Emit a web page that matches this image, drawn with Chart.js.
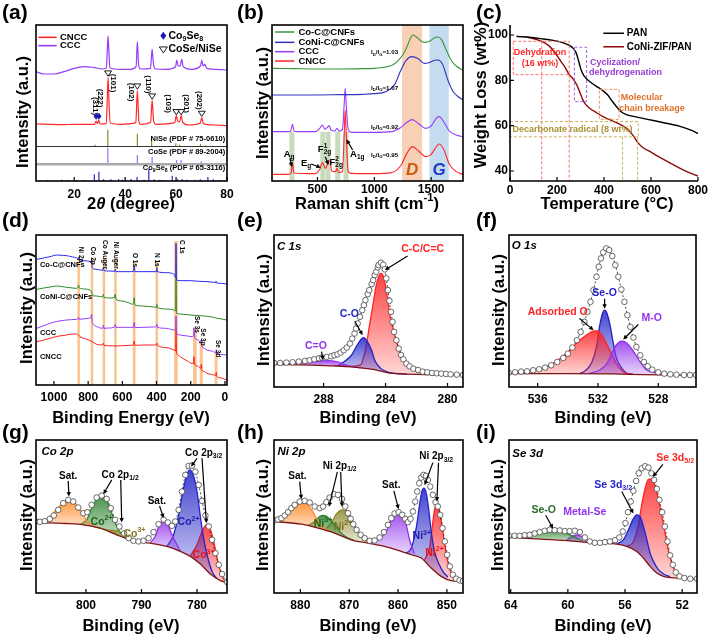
<!DOCTYPE html>
<html>
<head>
<meta charset="utf-8">
<title>Figure</title>
<script src="https://cdn.jsdelivr.net/npm/chart.js@4.4.1/dist/chart.umd.min.js"></script>
<style>
  html, body { margin: 0; padding: 0; background: #ffffff; }
  #fig { position: relative; width: 710px; height: 639px; overflow: hidden; background: #ffffff; }
  #fig canvas { position: absolute; left: 0; top: 0; }
</style>
</head>
<body>
<div id="fig"></div>
<script>
"use strict";

// DATA -----------------------

// (a) XRD  [2theta, intensity a.u.]
const xrdTicks = [20, 40, 60, 80];
const xrdCNCC = [[5,171],[10,170],[15,169],[20,170],[25,170],[28.0,170],[28.6,180],[29.1,172],[29.6,182],[30.2,171],[32.6,172],[33.0,250],[33.3,311],[33.7,225],[34.2,174],[38,170],[44.2,175],[44.8,271],[45.4,180],[46,170],[50.0,176],[50.6,243],[51.2,180],[52,170],[59.5,175],[60.1,196],[60.7,178],[61.4,178],[62.0,196],[62.6,176],[65,168],[69.5,174],[70.1,190],[70.7,172],[75,168],[80,166]];
const xrdCCC = [[5,328],[8,321],[12,321],[16,328],[20,338],[24,343],[28,340],[31,336],[32.6,338],[33.0,393],[33.3,435],[33.6,393],[34.0,340],[38,335],[42,335],[44.3,343],[44.8,418],[45.3,348],[46,336],[50,338],[50.3,370],[50.6,395],[50.9,370],[51.3,343],[52,336],[56,335],[59.8,343],[60.3,363],[60.8,345],[61.6,345],[62.2,365],[62.8,343],[66,335],[69.6,345],[70.1,363],[70.6,345],[71.3,350],[72,338],[76,335],[80,333]];
// reference cards [2theta, stick height]
const cardNiSe = [[28.2,5],[33.2,50],[44.8,38],[50.4,26],[59.9,10],[61.4,5],[69.6,8],[71.6,3]];
const cardCoSe = [[28.4,3],[33.2,50],[44.8,28],[50.6,22],[60.2,13],[62.0,13],[69.9,10],[71.6,5]];
const cardCo9Se8 = [[9.5,3],[15.2,4],[17.6,3],[21,3],[23.8,3],[27.9,20],[29.7,28],[31.5,5],[34.4,5],[37.4,6],[38.9,4],[42.3,6],[44.7,12],[47.5,4],[49.3,35],[51.4,5],[53.6,4],[55.2,3],[58.5,16],[60.6,5],[62.4,6],[64.2,4],[67.5,4],[69.5,5],[72.5,12],[74.6,5],[77.2,3]];

// (b) Raman  [shift cm-1, intensity]
const ramanTicks = [500, 1000, 1500];
const ramanCoC = [[100,338],[300,337],[500,336],[700,336],[900,337],[1000,338],[1100,342],[1160,348],[1200,358],[1250,378],[1290,405],[1320,430],[1340,438],[1370,432],[1420,418],[1450,416],[1490,420],[1530,430],[1560,432],[1590,425],[1630,395],[1680,360],[1720,345],[1780,332]];
const ramanCoNi = [[100,258],[400,258],[700,259],[900,260],[1000,262],[1100,268],[1180,290],[1230,330],[1280,362],[1330,373],[1380,368],[1440,353],[1480,355],[1530,362],[1560,363],[1600,350],[1650,300],[1690,270],[1730,255],[1780,243]];
const ramanCCC = [[100,148],[240,148],[265,150],[280,170],[295,150],[320,148],[480,148],[520,158],[544,168],[565,155],[590,162],[603,166],[620,152],[650,150],[671,158],[690,150],[720,155],[735,230],[744,278],[753,230],[770,155],[800,146],[1000,146],[1150,148],[1230,160],[1290,177],[1335,184],[1390,172],[1450,158],[1500,165],[1550,190],[1570,193],[1610,178],[1660,150],[1720,138],[1780,133]];
const ramanCNCC = [[100,20],[240,20],[268,24],[280,55],[292,24],[480,22],[520,35],[544,55],[570,38],[595,55],[610,60],[625,30],[660,28],[671,38],[685,26],[720,28],[735,140],[744,213],[753,140],[770,28],[800,23],[1000,22],[1150,25],[1230,45],[1290,85],[1335,103],[1390,90],[1450,73],[1500,80],[1550,105],[1570,111],[1610,95],[1660,50],[1720,28],[1780,20]];
const ramanRatios = ['1.03', '1.07', '0.92', '0.95'];

// (c) TGA  [temperature C, weight %]
const tgaXTicks = [0, 200, 400, 600, 800];
const tgaYTicks = [40, 60, 80, 100];
const tgaPAN = [[28,99.4],[80,99.0],[130,98.4],[184,97.6],[230,96.4],[255,95.3],[270,94.0],[282,92.0],[292,88.5],[302,84.8],[315,82.0],[330,80.3],[350,78.6],[375,76.9],[397,75.3],[415,73.6],[432,71.2],[450,68.8],[470,66.4],[495,64.9],[530,64.0],[580,62.9],[650,61.4],[720,59.8],[770,58.0],[800,56.6]];
const tgaZIF = [[28,99.4],[80,98.9],[135,97.2],[165,95.3],[190,92.4],[215,88.6],[235,85.6],[252,82.5],[270,80.4],[285,77.8],[298,74.5],[310,71.4],[322,69.4],[340,67.6],[370,65.6],[400,63.8],[440,61.9],[480,59.9],[505,58.0],[525,55.5],[545,52.4],[565,50.4],[600,48.3],[640,45.9],[680,43.6],[720,41.4],[760,39.4],[800,37.8]];

// (d) XPS survey  [binding energy eV, intensity]
const surveyTicks = [0, 200, 400, 600, 800, 1000];
const surveyCoC = [[1100,377],[1060,381],[1023,385],[984,390],[950,389],[926,388],[890,384],[867,381],[860,378],[855,384],[850,376],[800,372],[790,370],[782,367],[779,375],[776,352],[765,348],[740,346],[715,344],[711,352],[707,343],[680,342],[646,341],[642,348],[638,340],[600,340],[560,340],[535,341],[531,356],[527,340],[480,340],[420,340],[401,340],[398,352],[395,340],[340,337],[310,335],[295,330],[289,322],[286,425],[283,318],[279,314],[250,313],[200,313],[150,311],[100,310],[66,308],[55,307],[52,312],[49,306],[20,305],[-10,303]];
const surveyCoNi = [[1100,287],[1060,291],[1023,294],[984,297],[950,295],[926,293],[890,291],[870,290],[860,293],[856,300],[852,291],[820,288],[790,285],[782,282],[778,276],[775,268],[750,267],[715,264],[711,272],[707,263],[680,261],[646,262],[642,272],[638,258],[600,252],[560,246],[540,242],[535,243],[531,262],[527,240],[480,237],[420,234],[401,233],[398,242],[395,232],[340,228],[300,225],[289,222],[286,325],[283,215],[279,214],[262,213],[200,210],[150,208],[100,206],[66,203],[52,201],[20,198],[-10,195]];
const surveyCCC = [[1100,170],[1060,178],[1023,185],[980,191],[926,195],[867,197],[860,198],[856,203],[852,197],[800,200],[784,202],[780,212],[776,188],[760,178],[750,175],[715,170],[711,180],[707,170],[680,171],[646,174],[642,181],[638,173],[600,173],[560,173],[535,173],[531,188],[527,172],[480,173],[420,174],[401,175],[398,182],[395,173],[340,170],[300,165],[289,168],[286,207],[283,158],[279,152],[262,150],[220,147],[193,145],[184,147],[181,172],[177,142],[160,136],[154,134],[142,126],[139,135],[136,118],[120,110],[105,105],[80,102],[66,100],[53,96],[51,106],[49,94],[30,92],[-10,90]];
const surveyCNCC = [[1100,130],[1060,135],[1023,140],[980,146],[926,150],[890,153],[867,153],[857,150],[848,145],[800,136],[777,130],[750,122],[715,120],[711,126],[707,119],[680,118],[643,117],[600,118],[560,119],[535,120],[531,132],[527,119],[480,120],[420,120],[401,120],[398,126],[395,119],[340,112],[300,105],[289,102],[286,170],[283,95],[279,92],[262,85],[220,72],[193,65],[184,65],[181,85],[177,62],[160,57],[154,55],[142,50],[139,62],[136,46],[120,40],[105,35],[80,32],[66,30],[53,29],[51,38],[49,27],[30,22],[-10,15]];

// (e) C 1s
const c1sTicks = [280, 284, 288];
const c1sBg = [[291.2,68],[288.4,65],[286.2,60],[285.2,55],[284.5,50],[283.9,43],[283.0,39],[280.9,37],[279.0,36]];
const c1sCC = [[287.3,65],[286.2,62],[285.6,66],[285.45,85],[285.3,110],[285.05,180],[284.8,250],[284.6,305],[284.4,335],[284.3,340],[284.1,325],[283.9,275],[283.7,210],[283.4,155],[283.1,110],[282.8,80],[282.4,60],[281.7,48],[280.4,40],[279.0,36]];
const c1sCO = [[287.1,64],[286.7,75],[286.2,95],[285.9,120],[285.6,142],[285.4,148],[285.2,138],[284.9,110],[284.7,80],[284.3,55],[283.7,43],[282.6,38]];
const c1sCdO = [[291.2,69],[289.5,72],[288.4,77],[287.7,79],[287.1,75],[286.5,65],[285.6,57]];
const c1sEnv = [[291.2,72],[290.8,72],[290.4,73],[290.0,74],[289.6,76],[289.2,78],[288.9,80],[288.6,83],[288.3,86],[288.1,88],[287.8,90],[287.5,92],[287.3,95],[287.1,98],[286.9,103],[286.7,110],[286.5,118],[286.3,130],[286.15,145],[286.0,160],[285.9,175],[285.8,190],[285.65,210],[285.5,230],[285.4,245],[285.3,260],[285.15,278],[285.05,290],[284.9,308],[284.8,320],[284.7,335],[284.6,345],[284.5,358],[284.45,365],[284.3,372],[284.15,366],[284.05,352],[283.95,325],[283.85,290],[283.75,258],[283.65,225],[283.55,195],[283.45,165],[283.3,140],[283.15,115],[283.0,96],[282.85,83],[282.65,70],[282.45,62],[282.2,55],[281.9,51],[281.6,46],[281.3,44],[281.0,42],[280.7,41],[280.4,40],[280.1,39],[279.8,38],[279.4,37],[279.0,36]];

// (f) O 1s
const o1sTicks = [528, 532, 536];
const o1sBg = [[537.93,40],[534,40],[531,39],[529,37],[527,36],[525.5,35]];
const o1sAds = [[537.93,40],[536.11,50],[535.0,70],[534.11,100],[533.44,130],[532.78,155],[532.22,168],[532.0,168],[531.67,150],[531.22,110],[530.78,70],[530.33,45],[529.89,39]];
const o1sSeO = [[533.2,40],[532.8,50],[532.4,75],[532.1,120],[531.9,180],[531.7,220],[531.56,230],[531.4,220],[531.2,185],[531.0,135],[530.8,90],[530.4,55],[530.1,42],[529.7,39]];
const o1sMO = [[532.6,40],[531.9,50],[531.4,70],[531.1,100],[530.8,125],[530.4,137],[530.1,132],[529.7,110],[529.2,75],[528.8,52],[528.1,42],[527.2,37]];
const o1sEnv = [[537.93,43],[537.5,44],[537.1,46],[536.7,47],[536.3,50],[535.9,53],[535.5,58],[535.1,65],[534.7,75],[534.3,87],[534.0,100],[533.7,118],[533.4,140],[533.15,165],[532.9,195],[532.7,225],[532.5,255],[532.3,290],[532.1,330],[531.95,360],[531.8,385],[531.65,403],[531.45,415],[531.25,410],[531.05,392],[530.85,365],[530.65,330],[530.45,292],[530.25,255],[530.05,215],[529.85,180],[529.65,148],[529.45,120],[529.2,95],[528.95,75],[528.7,62],[528.4,52],[528.0,44],[527.6,40],[527.2,38],[526.8,37],[526.3,36],[525.9,36],[525.5,36]];

// (g) Co 2p
const co2pTicks = [780, 790, 800];
const co2pBg = [[809.04,209],[806.51,211],[803.49,209],[800.48,205],[797.47,195],[794.46,175],[791.45,157],[788.43,150],[785.42,140],[783.01,125],[781.20,110],[779.40,87],[777.59,57],[775.78,37],[774.58,31]];
const co2pSatA = [[808.92,208],[807.11,220],[805.60,245],[804.40,267],[803.19,277],[801.99,270],[800.78,243],[799.76,215],[798.67,200],[797.47,195]];
const co2pCo2A = [[801.08,206],[799.88,220],[798.98,255],[798.07,280],[797.17,287],[796.27,277],[795.36,240],[794.46,200],[793.25,170],[792.05,160],[790.84,155]];
const co2pCo3A = [[797.5,195],[796.3,190],[795.1,188],[794.2,186],[793.0,175],[792.0,163],[790.8,155]];
const co2pSatB = [[788.43,150],[787.53,170],[786.75,205],[786.02,217],[785.30,207],[784.52,175],[783.61,145],[783.01,125]];
const co2pCo2B = [[785.42,140],[784.22,175],[783.31,235],[782.53,305],[781.93,350],[781.33,370],[780.72,357],[780.0,305],[779.52,245],[778.92,175],[778.19,115],[777.29,65],[776.39,43]];
const co2pCo3B = [[781.20,112],[780.0,145],[779.10,185],[778.31,205],[777.71,195],[776.99,155],[776.39,105],[775.78,65],[775.18,40],[774.58,31]];
const co2pEnv = [[809.04,215],[808.31,214],[807.41,216],[806.51,223],[805.78,233],[805.0,250],[804.10,270],[803.19,280],[802.29,275],[801.39,257],[800.48,240],[799.76,243],[798.98,265],[798.07,287],[797.17,293],[796.27,283],[795.54,255],[794.76,220],[793.98,200],[793.13,179],[792.29,165],[791.45,157],[790.54,155],[789.64,157],[788.73,165],[787.83,183],[786.93,207],[786.02,221],[785.24,212],[784.52,202],[783.92,215],[783.31,250],[782.71,305],[782.11,355],[781.51,382],[780.90,383],[780.30,365],[779.70,325],[779.10,277],[778.49,233],[777.89,200],[777.29,160],[776.69,120],[776.08,85],[775.48,57],[774.58,33]];

// (h) Ni 2p
const ni2pTicks = [850, 860, 870, 880];
const ni2pBg = [[885.39,215],[879.80,207],[876.39,195],[872.98,180],[869.57,160],[866.16,150],[862.75,140],[859.35,125],[857.30,115],[855.26,105],[853.21,75],[851.17,50],[849.12,37],[846.73,35]];
const ni2pSatA = [[885.39,215],[883.20,230],[881.50,253],[880.14,268],[879.45,270],[878.43,265],[877.41,243],[876.39,215],[875.36,200],[874.34,188]];
const ni2pNi3A = [[878.4,204],[877.07,215],[876.05,230],[875.16,233],[874.34,227],[872.98,205],[871.62,180],[870.25,165],[868.89,157]];
const ni2pNi2A = [[875.02,190],[873.66,210],[872.64,237],[871.48,250],[870.25,243],[869.23,215],[868.21,185],[866.84,160],[865.48,152]];
const ni2pSatB = [[866.16,150],[864.12,160],[862.41,185],[861.39,220],[860.03,243],[859.0,235],[858.32,205],[857.64,160],[856.62,118]];
const ni2pNi3B = [[858.32,120],[857.30,135],[856.28,195],[855.60,265],[855.12,305],[854.71,315],[854.23,300],[853.76,255],[853.21,185],[852.53,125],[851.71,90],[850.82,65],[849.80,48]];
const ni2pNi2B = [[854.57,100],[853.55,135],[852.87,215],[852.39,260],[852.05,268],[851.64,255],[851.03,205],[850.35,135],[849.67,85],[848.78,50],[847.89,40],[846.73,35]];
const ni2pEnv = [[885.39,218],[884.57,221],[883.89,225],[883.20,233],[882.52,243],[881.84,255],[881.16,265],[880.14,275],[879.11,277],[878.09,272],[877.07,260],[876.05,255],[875.36,260],[874.68,273],[874.0,287],[873.12,297],[872.30,295],[871.48,283],[870.80,260],[870.25,240],[869.71,223],[869.16,207],[868.48,190],[867.66,175],[866.84,165],[865.82,157],[864.80,158],[863.78,167],[862.89,183],[862.07,205],[861.39,225],[860.71,239],[859.89,243],[859.14,235],[858.53,223],[857.98,213],[857.44,223],[856.96,245],[856.48,275],[856.07,305],[855.66,330],[855.26,347],[854.78,355],[854.30,352],[853.89,340],[853.41,320],[852.87,295],[852.32,273],[851.85,260],[851.37,235],[850.89,195],[850.42,155],[849.94,115],[849.39,80],[848.78,55],[848.10,43],[847.42,38],[846.73,36]];

// (i) Se 3d
const se3dTicks = [52, 56, 60, 64];
const se3dBg = [[64.12,167],[62.20,163],[60.33,158],[58.93,153],[57.52,150],[56.58,147],[55.88,140],[55.18,125],[54.71,105],[54.24,80],[53.77,60],[53.30,50],[52.37,45],[50.96,43]];
const se3dSeO = [[64.12,167],[63.14,175],[62.20,185],[61.15,189],[60.33,183],[59.63,170],[58.93,155]];
const se3dMSe = [[60.10,158],[59.74,170],[59.39,175],[59.04,170],[58.69,155],[58.34,151]];
const se3dD32 = [[56.58,148],[56.11,160],[55.76,190],[55.46,220],[55.18,235],[54.94,230],[54.71,200],[54.47,160],[54.24,120],[54.01,95],[53.66,70],[53.30,57],[52.84,49]];
const se3dD52 = [[55.88,140],[55.41,155],[55.06,205],[54.83,265],[54.59,315],[54.36,342],[54.19,343],[53.96,330],[53.66,280],[53.30,205],[52.95,125],[52.60,75],[52.25,50],[51.66,44],[50.96,43]];
const se3dEnv = [[64.12,172],[63.73,172],[63.37,172],[63.02,174],[62.67,175],[62.32,179],[61.97,183],[61.62,187],[61.27,190],[60.92,189],[60.56,188],[60.21,186],[59.87,186],[59.51,187],[59.16,183],[58.81,167],[58.46,155],[58.11,151],[57.75,151],[57.40,153],[57.05,155],[56.70,159],[56.40,167],[56.16,185],[55.97,210],[55.79,243],[55.60,275],[55.41,307],[55.22,337],[55.04,360],[54.83,375],[54.59,381],[54.36,377],[54.15,360],[53.96,340],[53.77,313],[53.59,280],[53.40,243],[53.21,200],[53.02,155],[52.84,113],[52.65,85],[52.44,62],[52.18,50],[51.85,45],[51.43,43],[50.96,43]];

// STYLE -----------------------
const FONT = '"Liberation Sans", Arial, Helvetica, sans-serif';
const cRed = '255,40,40';
const cPurple = '150,60,250';
const cGreen = '55,150,55';
const cBlue = '50,50,190';
const xRed = '255,35,35';
const xBlue = '35,35,200';
const xPurple = '145,50,235';
const xGreen = '45,130,45';
const xOlive = '140,135,40';
const xOrange = '255,135,35';
const xBg = '128,20,20';
const css = c => 'rgb(' + c + ')';

// HELPERS -----------------------
function curve(data, rgb, w, extra) {
  return Object.assign({
    data: data.map(p => ({x: p[0], y: p[1]})),
    borderColor: css(rgb),
    borderWidth: w,
    pointRadius: 0,
    fill: false,
    tension: 0,
    cubicInterpolationMode: 'monotone'
  }, extra || {});
}

function sticks(arr, base, rgb) {
  const data = [];
  arr.forEach(p => { data.push([p[0], base], [p[0], base + p[1]], [p[0], null]); });
  return curve(data, rgb, 1.2, {spanGaps: false, cubicInterpolationMode: 'default'});
}

// gradient fill: strong at the peak, pale at the base
function fade(rgb) {
  return function (ctx) {
    const chart = ctx.chart;
    if (!chart.chartArea || !ctx.dataset) return 'rgba(' + rgb + ',0.5)';
    const ys = ctx.dataset.data.map(p => p.y);
    const top = chart.scales.y.getPixelForValue(Math.max.apply(null, ys));
    const bot = chart.scales.y.getPixelForValue(Math.min.apply(null, ys));
    const g = chart.ctx.createLinearGradient(0, top, 0, bot + 1);
    g.addColorStop(0, 'rgba(' + rgb + ',0.85)');
    g.addColorStop(1, 'rgba(' + rgb + ',0.18)');
    return g;
  };
}

function xpsSets(bg, comps, env) {
  const sets = [curve(bg, xBg, 1.3, {order: 1})];
  comps.forEach((c, i) => sets.push(curve(c[0], c[1], 1.3, {
    order: 2 + i, fill: {target: 0}, backgroundColor: fade(c[1])
  })));
  sets.push(curve(env, '30,30,30', 0.8, {
    order: 0, borderDash: [2, 2],
    pointRadius: 2.8, pointBorderWidth: 0.8, pointBorderColor: '#444', pointBackgroundColor: '#fff'
  }));
  return sets;
}

const T = (s, x, y, o) => Object.assign({k: 'text', s: s, x: x, y: y}, o || {});
const A = (x1, y1, x2, y2, color) => ({k: 'arrow', x1: x1, y1: y1, x2: x2, y2: y2, color: color || '#000'});
const R = (x1, y1, x2, y2, o) => Object.assign({k: 'rect', x1: x1, y1: y1, x2: x2, y2: y2}, o || {});
const S = (x1, y1, x2, y2, color, w, dash) => ({k: 'seg', x1: x1, y1: y1, x2: x2, y2: y2, color: color, w: w || 1, dash: dash || []});
const M = (x, y, shape, color, size) => ({k: 'mark', x: x, y: y, shape: shape, color: color, size: size || 4});

// text with _{sub}, ^{sup} and ~{italic}
function drawRich(ctx, str, x, y, o) {
  const size = o.size || 11;
  const re = /([\^_~])\{([^}]*)\}|([^\^_~]+)/g;
  const parts = [];
  let m;
  while ((m = re.exec(str))) {
    if (m[3] !== undefined) parts.push({t: m[3], k: ''});
    else parts.push({t: m[2], k: m[1]});
  }
  const fontFor = p => {
    const s = (p.k === '^' || p.k === '_') ? size * 0.68 : size;
    const it = (p.k === '~' || o.italic) ? 'italic ' : '';
    return it + (o.bold === false ? '' : 'bold ') + s + 'px ' + FONT;
  };
  let w = 0, supStart = 0, supW = 0;
  const lay = [];
  parts.forEach((p, i) => {
    ctx.font = fontFor(p);
    const pw = ctx.measureText(p.t).width;
    let px = w;
    if (p.k === '_' && i > 0 && parts[i - 1].k === '^') {
      px = supStart;
      w = supStart + Math.max(supW, pw);
    } else {
      if (p.k === '^') { supStart = w; supW = pw; }
      w += pw;
    }
    lay.push({p: p, px: px, font: fontFor(p)});
  });
  ctx.save();
  ctx.translate(x, y);
  if (o.rot) ctx.rotate(o.rot * Math.PI / 180);
  const align = o.align || 'center';
  const x0 = align === 'center' ? -w / 2 : align === 'right' ? -w : 0;
  ctx.fillStyle = o.color || '#000';
  ctx.textBaseline = 'middle';
  ctx.textAlign = 'left';
  lay.forEach(l => {
    ctx.font = l.font;
    const dy = l.p.k === '^' ? -size * 0.36 : l.p.k === '_' ? size * 0.3 : 0;
    ctx.fillText(l.p.t, x0 + l.px, dy);
  });
  ctx.restore();
}

function arrow(ctx, x1, y1, x2, y2, color) {
  const a = Math.atan2(y2 - y1, x2 - x1), h = 5;
  ctx.strokeStyle = color; ctx.fillStyle = color; ctx.lineWidth = 1.2;
  ctx.beginPath(); ctx.moveTo(x1, y1);
  ctx.lineTo(x2 - h * 0.8 * Math.cos(a), y2 - h * 0.8 * Math.sin(a)); ctx.stroke();
  ctx.beginPath(); ctx.moveTo(x2, y2);
  ctx.lineTo(x2 - h * Math.cos(a - 0.45), y2 - h * Math.sin(a - 0.45));
  ctx.lineTo(x2 - h * Math.cos(a + 0.45), y2 - h * Math.sin(a + 0.45));
  ctx.closePath(); ctx.fill();
}

function drawItems(chart, items) {
  const ctx = chart.ctx;
  const X = v => chart.scales.x.getPixelForValue(v);
  const Y = v => chart.scales.y.getPixelForValue(v);
  items.forEach(it => {
    ctx.save();
    if (it.k === 'rect') {
      const x = Math.min(X(it.x1), X(it.x2)), y = Math.min(Y(it.y1), Y(it.y2));
      const w = Math.abs(X(it.x2) - X(it.x1)), h = Math.abs(Y(it.y2) - Y(it.y1));
      if (it.fill) { ctx.fillStyle = it.fill; ctx.fillRect(x, y, w, h); }
      if (it.stroke) {
        ctx.strokeStyle = it.stroke; ctx.lineWidth = 1; ctx.setLineDash(it.dash || []);
        ctx.strokeRect(x, y, w, h);
      }
    } else if (it.k === 'seg') {
      ctx.strokeStyle = it.color; ctx.lineWidth = it.w; ctx.setLineDash(it.dash);
      ctx.beginPath(); ctx.moveTo(X(it.x1), Y(it.y1)); ctx.lineTo(X(it.x2), Y(it.y2)); ctx.stroke();
    } else if (it.k === 'arrow') {
      arrow(ctx, X(it.x1), Y(it.y1), X(it.x2), Y(it.y2), it.color);
    } else if (it.k === 'mark') {
      const x = X(it.x), y = Y(it.y), s = it.size;
      ctx.beginPath();
      if (it.shape === 'dia') {
        ctx.moveTo(x, y - s); ctx.lineTo(x + s * 0.75, y); ctx.lineTo(x, y + s); ctx.lineTo(x - s * 0.75, y);
        ctx.closePath(); ctx.fillStyle = it.color; ctx.fill();
      } else {
        ctx.moveTo(x - s, y - s * 0.6); ctx.lineTo(x + s, y - s * 0.6); ctx.lineTo(x, y + s * 0.9);
        ctx.closePath(); ctx.fillStyle = '#fff'; ctx.fill();
        ctx.strokeStyle = it.color; ctx.lineWidth = 0.9; ctx.stroke();
      }
    } else if (it.k === 'text') {
      drawRich(ctx, it.s, X(it.x), Y(it.y), it);
    }
    ctx.restore();
  });
}

function deco(spec) {
  return {
    id: 'deco',
    beforeDatasetsDraw(chart) {
      const a = chart.chartArea, ctx = chart.ctx;
      ctx.save();
      ctx.beginPath(); ctx.rect(a.left, a.top, a.right - a.left, a.bottom - a.top); ctx.clip();
      drawItems(chart, spec.items.filter(it => it.back));
      ctx.restore();
    },
    afterDatasetsDraw(chart) {
      const a = chart.chartArea, ctx = chart.ctx;
      drawItems(chart, spec.items.filter(it => !it.back));
      ctx.save();
      ctx.strokeStyle = '#000'; ctx.lineWidth = 1.6;
      if (spec.frame === 'L') {
        ctx.beginPath(); ctx.moveTo(a.left, a.top); ctx.lineTo(a.left, a.bottom); ctx.lineTo(a.right, a.bottom); ctx.stroke();
      } else {
        ctx.strokeRect(a.left, a.top, a.right - a.left, a.bottom - a.top);
      }
      ctx.lineWidth = 1.2;
      ctx.beginPath();
      spec.x.ticks.forEach(v => {
        const px = chart.scales.x.getPixelForValue(v);
        ctx.moveTo(px, a.bottom); ctx.lineTo(px, a.bottom - 4);
      });
      if (spec.y.ticks) spec.y.ticks.forEach(v => {
        const py = chart.scales.y.getPixelForValue(v);
        ctx.moveTo(a.left, py); ctx.lineTo(a.left + 4, py);
      });
      ctx.stroke();
      ctx.restore();
    },
    afterDraw(chart) {
      const ctx = chart.ctx;
      drawRich(ctx, spec.label[0], spec.label[1], spec.label[2], {size: 21, align: 'left'});
      drawRich(ctx, spec.xt[0], spec.xt[1], spec.xt[2], {size: 16.5});
      drawRich(ctx, spec.yt[0], spec.yt[1], spec.yt[2], {size: 16.5, rot: -90});
    }
  };
}

function makeChart(spec) {
  const cv = document.createElement('canvas');
  cv.width = 710; cv.height = 639;
  cv.style.width = '710px'; cv.style.height = '639px';
  document.getElementById('fig').appendChild(cv);
  const L = spec.box[0], Tp = spec.box[1], Rt = spec.box[2], B = spec.box[3];
  const tickFont = {family: FONT, size: 12, weight: 'bold'};
  const yShown = !!spec.y.ticks;
  const yScale = yShown ? {
    type: 'linear', min: spec.y.min, max: spec.y.max,
    afterBuildTicks: s => { s.ticks = spec.y.ticks.map(v => ({value: v})); },
    afterFit: s => { s.width = 30; },
    ticks: {font: tickFont, color: '#000', padding: 2, callback: v => String(v)},
    grid: {display: false, drawTicks: false},
    border: {display: false}
  } : {type: 'linear', display: false, min: spec.y.min, max: spec.y.max};
  return new Chart(cv, {
    type: 'line',
    data: {datasets: spec.sets},
    options: {
      responsive: false, animation: false, devicePixelRatio: 1, events: [],
      layout: {padding: {left: yShown ? L - 30 : L, top: Tp, right: 710 - Rt, bottom: 0}},
      plugins: {legend: {display: false}, tooltip: {enabled: false}},
      scales: {
        x: {
          type: 'linear', min: spec.x.min, max: spec.x.max, reverse: !!spec.x.reverse,
          afterBuildTicks: s => { s.ticks = spec.x.ticks.map(v => ({value: v})); },
          afterFit: s => { s.height = 639 - B; },
          ticks: {font: tickFont, color: '#000', padding: spec.x.pad, maxRotation: 0, autoSkip: false, callback: v => String(v)},
          grid: {display: false, drawTicks: false},
          border: {display: false}
        },
        y: yScale
      }
    },
    plugins: [deco(spec)]
  });
}

// CHARTS -----------------------

// (a) XRD
makeChart({
  box: [36, 25, 227, 181],
  x: {min: 5, max: 80, ticks: xrdTicks, pad: 6},
  y: {min: 0, max: 468},
  sets: [
    curve(xrdCCC, cPurple, 1.2),
    curve(xrdCNCC, cRed, 1.2),
    sticks(cardNiSe, 103.5, '140,140,40'),
    sticks(cardCoSe, 50, '160,110,255'),
    sticks(cardCo9Se8, 0, '40,40,200')
  ],
  items: [
    S(5, 103.5, 80, 103.5, '#333', 1),
    S(5, 50, 80, 50, '#aaa', 2.5),
    S(5.9, 431, 13.1, 431, css(cRed), 1.6), T('CNCC', 14.4, 431, {size: 9.5, align: 'left'}),
    S(5.9, 406, 13.1, 406, css(cPurple), 1.6), T('CCC', 14.4, 406, {size: 9.5, align: 'left'}),
    M(55.0, 436, 'dia', '#1a1ab0', 4), T('Co_{9}Se_{8}', 57.0, 436, {size: 10.5, align: 'left'}),
    M(55.0, 395, 'tri', '#000', 4), T('CoSe/NiSe', 57.0, 395, {size: 10.5, align: 'left'}),
    T('(311)', 28.2, 225, {size: 8, rot: 90}),
    T('(222)', 30.1, 249, {size: 8, rot: 90}),
    T('(101)', 35.2, 294, {size: 8, rot: 90}),
    T('(102)', 42.3, 267, {size: 8, rot: 90}),
    T('(110)', 49.0, 290, {size: 8, rot: 90}),
    T('(103)', 57.0, 232, {size: 8, rot: 90}),
    T('(201)', 63.8, 232, {size: 8, rot: 90}),
    T('(202)', 69.0, 242, {size: 8, rot: 90}),
    M(33.3, 324, 'tri', '#000', 3.5), M(44.8, 285, 'tri', '#000', 3.5), M(50.6, 255, 'tri', '#000', 3.5),
    M(60.1, 208, 'tri', '#000', 3.5), M(62.0, 208, 'tri', '#000', 3.5), M(70.1, 203, 'tri', '#000', 3.5),
    M(28.6, 194, 'dia', '#1a1ab0', 3.5), M(29.7, 194, 'dia', '#1a1ab0', 3.5),
    T('NiSe (PDF # 75-0610)', 79.3, 126, {size: 7.5, align: 'right'}),
    T('CoSe (PDF # 89-2004)', 79.3, 88, {size: 7.5, align: 'right'}),
    T('Co_{9}Se_{8} (PDF # 65-3116)', 79.3, 38, {size: 7.5, align: 'right'})
  ],
  label: ['(a)', 2, 13], xt: ['2~{θ} (degree)', 131, 204], yt: ['Intensity (a.u.)', 23, 112]
});

// (b) Raman
const gBand = 'rgba(165,195,145,0.6)';
makeChart({
  box: [272, 25, 463, 181],
  x: {min: 100, max: 1780, ticks: ramanTicks, pad: 1},
  y: {min: 0, max: 468},
  sets: [
    curve(ramanCoC, cGreen, 1.1),
    curve(ramanCoNi, cBlue, 1.1),
    curve(ramanCCC, cPurple, 1.1),
    curve(ramanCNCC, cRed, 1.1)
  ],
  items: [
    R(253, 0, 297, 148, {fill: gBand, back: true}),
    R(525, 0, 568, 148, {fill: gBand, back: true}),
    R(572, 0, 615, 148, {fill: gBand, back: true}),
    R(656, 0, 700, 148, {fill: gBand, back: true}),
    R(729, 0, 773, 148, {fill: gBand, back: true}),
    R(1244, 0, 1420, 468, {fill: 'rgba(244,177,131,0.6)', back: true}),
    R(1485, 0, 1655, 468, {fill: 'rgba(157,195,230,0.6)', back: true}),
    S(127, 447, 297, 447, css(cGreen), 1.5), T('Co-C@CNFs', 332, 447, {size: 9.5, align: 'left'}),
    S(127, 416, 297, 416, css(cBlue), 1.5), T('CoNi-C@CNFs', 332, 416, {size: 9.5, align: 'left'}),
    S(127, 388, 297, 388, css(cPurple), 1.5), T('CCC', 332, 388, {size: 9.5, align: 'left'}),
    S(127, 360, 297, 360, css(cRed), 1.5), T('CNCC', 332, 360, {size: 9.5, align: 'left'}),
    T('I_{D}/I_{G}=' + ramanRatios[0], 1209, 385, {size: 6.2, align: 'right'}),
    T('I_{D}/I_{G}=' + ramanRatios[1], 1209, 278, {size: 6.2, align: 'right'}),
    T('I_{D}/I_{G}=' + ramanRatios[2], 1209, 161, {size: 6.2, align: 'right'}),
    T('I_{D}/I_{G}=' + ramanRatios[3], 1209, 78, {size: 6.2, align: 'right'}),
    T('D', 1332, 31, {size: 17, italic: true, color: 'rgb(197,90,17)'}),
    T('G', 1570, 31, {size: 17, italic: true, color: 'rgb(30,60,200)'}),
    T('A_{g}', 250, 81, {size: 9.5}), A(259, 69, 274, 42),
    T('E_{g}', 400, 53, {size: 9.5}), A(444, 51, 530, 40),
    T('F^{1}_{2g}', 562, 94, {size: 9.5}), A(568, 73, 597, 48),
    T('F^{2}_{2g}', 665, 55, {size: 9.5}),
    T('A_{1g}', 850, 81, {size: 9.5}), A(809, 93, 755, 125)
  ],
  label: ['(b)', 237, 13], xt: ['Raman shift (cm^{-1})', 367, 204], yt: ['Intensity (a.u.)', 263, 103]
});

// (c) TGA
const dRed = 'rgb(255,110,110)', dPur = 'rgb(160,100,220)', dOra = 'rgb(230,150,90)', dOli = 'rgb(200,180,90)';
makeChart({
  box: [510, 25, 698, 181],
  frame: 'L',
  x: {min: 0, max: 800, ticks: tgaXTicks, pad: 2},
  y: {min: 35.6, max: 104.4, ticks: tgaYTicks},
  sets: [
    curve(tgaPAN, '0,0,0', 1.4),
    curve(tgaZIF, '140,10,10', 1.4)
  ],
  items: [
    R(14, 82.5, 252, 97.2, {stroke: dRed, dash: [3, 2]}),
    S(135, 97.2, 135, 35.6, dRed, 1, [3, 2]),
    S(252, 82.5, 252, 35.6, dRed, 1, [3, 2]),
    R(274, 70.6, 326, 94.6, {stroke: dPur, dash: [3, 2]}),
    R(380, 62.8, 464, 76.0, {stroke: dOra, dash: [3, 2]}),
    R(0, 55.1, 546, 61.8, {stroke: dOli, dash: [3, 2]}),
    S(479, 55.1, 479, 35.6, dOli, 1, [3, 2]),
    S(543, 55.1, 543, 35.6, dOli, 1, [3, 2]),
    T('Dehydration', 128, 92.2, {size: 9, color: 'rgb(255,40,40)'}),
    T('(16 wt%)', 128, 87.5, {size: 9, color: 'rgb(255,40,40)'}),
    T('Cyclization/', 340, 87.9, {size: 9, color: 'rgb(150,60,210)', align: 'left'}),
    T('dehydrogenation', 336, 83.4, {size: 9, color: 'rgb(150,60,210)', align: 'left'}),
    T('Molecular', 471, 72.2, {size: 9, color: 'rgb(220,110,40)', align: 'left'}),
    T('chain breakage', 465, 67.6, {size: 9, color: 'rgb(220,110,40)', align: 'left'}),
    T('Decarbonate radical (8 wt%)', 11, 58.1, {size: 9, color: 'rgb(170,145,50)', align: 'left'}),
    S(397, 100.75, 485, 100.75, '#000', 1.5), T('PAN', 497, 100.75, {size: 10, align: 'left'}),
    S(397, 94.8, 485, 94.8, 'rgb(140,10,10)', 1.5), T('CoNi-ZIF/PAN', 497, 94.8, {size: 10, align: 'left'})
  ],
  label: ['(c)', 476, 13], xt: ['Temperature (°C)', 607, 204], yt: ['Weight Loss (wt%)', 481, 95]
});

// (d) XPS survey
const oBand = 'rgba(248,176,110,0.75)';
const vLab = {size: 6.5, rot: 90, align: 'left'};
makeChart({
  box: [36, 235, 227, 385],
  x: {min: -12, max: 1105, reverse: true, ticks: surveyTicks, pad: 5},
  y: {min: 0, max: 450},
  sets: [
    curve(surveyCoC, '40,40,240', 1),
    curve(surveyCoNi, '40,140,40', 1),
    curve(surveyCCC, '150,60,250', 1),
    curve(surveyCNCC, '255,30,30', 1)
  ],
  items: [
    R(848, 0, 863, 385, {fill: oBand, back: true}),
    R(770, 0, 785, 380, {fill: oBand, back: true}),
    R(700, 0, 715, 380, {fill: oBand, back: true}),
    R(633, 0, 648, 375, {fill: oBand, back: true}),
    R(523, 0, 539, 369, {fill: oBand, back: true}),
    R(391, 0, 406, 369, {fill: oBand, back: true}),
    R(276, 0, 297, 432, {fill: oBand, back: true}),
    R(165, 0, 187, 170, {fill: oBand, back: true}),
    R(129, 0, 148, 132, {fill: oBand, back: true}),
    R(43, 0, 60, 100, {fill: oBand, back: true}),
    T('Ni 2p', 845, 415, vLab), T('Co 2p', 771, 415, vLab),
    T('Co Auger', 704, 435, vLab), T('Ni Auger', 637, 430, vLab),
    T('O 1s', 525, 396, vLab), T('N 1s', 396, 396, vLab), T('C 1s', 250, 435, vLab),
    T('Se 3s', 164, 207, vLab), T('Se 3p', 129, 170, vLab), T('Se 3d', 43, 135, vLab),
    T('Co-C@CNFs', 1082, 360, {size: 7.5, align: 'left'}),
    T('CoNi-C@CNFs', 1082, 263, {size: 7.5, align: 'left'}),
    T('CCC', 1082, 157, {size: 7.5, align: 'left'}),
    T('CNCC', 1082, 85, {size: 7.5, align: 'left'})
  ],
  label: ['(d)', 2, 221], xt: ['Binding Energy (eV)', 131, 418], yt: ['Intensity (a.u.)', 27, 308]
});

// (e) C 1s
makeChart({
  box: [274, 235, 463, 387],
  x: {min: 279.0, max: 291.2, reverse: true, ticks: c1sTicks, pad: 5},
  y: {min: 0, max: 455},
  sets: xpsSets(c1sBg, [[c1sCdO, xPurple], [c1sCO, xBlue], [c1sCC, xRed]], c1sEnv),
  items: [
    T('C 1s', 291.0, 420, {size: 11.5, italic: true, align: 'left'}),
    T('C-C/C=C', 281.6, 412, {size: 10.5, color: css(xRed)}), A(282.58, 392, 284.04, 350),
    T('C-O', 286.34, 218, {size: 10.5, color: css(xBlue)}), A(285.98, 197, 285.48, 155),
    T('C=O', 288.49, 122, {size: 10.5, color: css(xPurple)}), A(288.13, 106, 288.04, 80)
  ],
  label: ['(e)', 237, 221], xt: ['Binding (eV)', 368, 418], yt: ['Intensity (a.u.)', 264, 310]
});

// (f) O 1s
makeChart({
  box: [509, 235, 696, 387],
  x: {min: 525.5, max: 537.9, reverse: true, ticks: o1sTicks, pad: 5},
  y: {min: 0, max: 455},
  sets: xpsSets(o1sBg, [[o1sMO, xPurple], [o1sAds, xRed], [o1sSeO, xBlue]], o1sEnv),
  items: [
    T('O 1s', 537.71, 422, {size: 11.5, italic: true, align: 'left'}),
    T('Se-O', 531.56, 280, {size: 10.5, color: css(xBlue)}), A(531.56, 264, 531.56, 234),
    T('Adsorbed O', 534.67, 225, {size: 10.5, color: css(xRed)}), A(533.22, 205, 532.29, 170),
    T('M-O', 528.44, 205, {size: 10.5, color: css(xPurple)}), A(529.33, 187, 530.33, 142)
  ],
  label: ['(f)', 476, 221], xt: ['Binding (eV)', 603, 418], yt: ['Intensity (a.u.)', 499, 310]
});

// (g) Co 2p
makeChart({
  box: [36, 440, 227, 593],
  x: {min: 774.6, max: 809.0, reverse: true, ticks: co2pTicks, pad: 5},
  y: {min: 0, max: 460},
  sets: xpsSets(co2pBg, [[co2pCo3A, xOlive], [co2pSatA, xOrange], [co2pCo2A, xGreen], [co2pSatB, xPurple], [co2pCo2B, xBlue], [co2pCo3B, xRed]], co2pEnv),
  items: [
    T('Co 2p', 808.0, 423, {size: 11.5, italic: true, align: 'left'}),
    T('Sat.', 803.2, 352, {size: 10}), A(803.2, 337, 803.07, 290),
    T('Co 2p_{1/2}', 793.86, 355, {size: 10}),
    A(795.36, 340, 796.87, 297), A(793.74, 340, 793.56, 212),
    T('Co^{2+}', 797.17, 213, {size: 10.5, color: 'rgb(30,100,30)'}),
    T('Co^{3+}', 791.27, 177, {size: 10.5, color: 'rgb(130,120,30)'}),
    T('Sat.', 787.23, 277, {size: 10}), A(786.75, 262, 786.02, 225),
    T('Co 2p_{3/2}', 778.8, 420, {size: 10}),
    A(780.0, 405, 781.08, 380), A(779.1, 405, 778.31, 210),
    T('Co^{2+}', 781.51, 212, {size: 10.5, color: 'rgb(30,30,170)'}),
    T('Co^{3+}', 778.8, 113, {size: 10.5, color: 'rgb(230,20,20)'})
  ],
  label: ['(g)', 2, 433], xt: ['Binding (eV)', 131, 626], yt: ['Intensity (a.u.)', 27, 515]
});

// (h) Ni 2p
makeChart({
  box: [274, 440, 463, 593],
  x: {min: 846.7, max: 885.4, reverse: true, ticks: ni2pTicks, pad: 5},
  y: {min: 0, max: 460},
  sets: xpsSets(ni2pBg, [[ni2pSatA, xOrange], [ni2pNi3A, xGreen], [ni2pNi2A, xOlive], [ni2pSatB, xPurple], [ni2pNi3B, xBlue], [ni2pNi2B, xRed]], ni2pEnv),
  items: [
    T('Ni 2p', 884.7, 423, {size: 11.5, italic: true, align: 'left'}),
    T('Sat.', 880.61, 350, {size: 10}), A(880.14, 335, 879.8, 282),
    T('Ni 2p_{1/2}', 871.96, 380, {size: 10}),
    A(872.43, 364, 874.14, 259), A(871.75, 364, 871.48, 259),
    T('Ni^{3+}', 875.36, 207, {size: 10.5, color: 'rgb(30,100,30)'}),
    T('Ni^{2+}', 871.27, 198, {size: 10.5, color: 'rgb(120,110,30)'}),
    T('Sat.', 861.39, 323, {size: 10}), A(860.85, 307, 859.89, 252),
    T('Ni 2p_{3/2}', 852.19, 410, {size: 10}),
    A(852.87, 392, 854.57, 324), A(851.71, 392, 852.05, 275),
    T('Ni^{3+}', 855.12, 170, {size: 10.5, color: 'rgb(30,30,170)'}),
    T('Ni^{2+}', 852.53, 120, {size: 10.5, color: 'rgb(230,20,20)'})
  ],
  label: ['(h)', 237, 433], xt: ['Binding (eV)', 368, 626], yt: ['Intensity (a.u.)', 263, 515]
});

// (i) Se 3d
makeChart({
  box: [509, 440, 697, 593],
  x: {min: 50.96, max: 64.12, reverse: true, ticks: se3dTicks, pad: 5},
  y: {min: 0, max: 460},
  sets: xpsSets(se3dBg, [[se3dSeO, xGreen], [se3dMSe, xPurple], [se3dD32, xBlue], [se3dD52, xRed]], se3dEnv),
  items: [
    T('Se 3d', 63.89, 417, {size: 11.5, italic: true, align: 'left'}),
    T('Se 3d_{5/2}', 52.49, 405, {size: 10.5, color: css(xRed)}), A(53.35, 387, 54.05, 349),
    T('Se 3d_{3/2}', 56.82, 325, {size: 10.5, color: css(xBlue)}), A(56.23, 305, 55.41, 239),
    T('Se-O', 61.69, 250, {size: 10.5, color: 'rgb(40,110,40)'}), A(61.55, 233, 61.03, 194),
    T('Metal-Se', 58.81, 243, {size: 10.5, color: css(xPurple)})
  ],
  label: ['(i)', 476, 433], xt: ['Binding (eV)', 603, 626], yt: ['Intensity (a.u.)', 498, 515]
});
</script>
</body>
</html>
